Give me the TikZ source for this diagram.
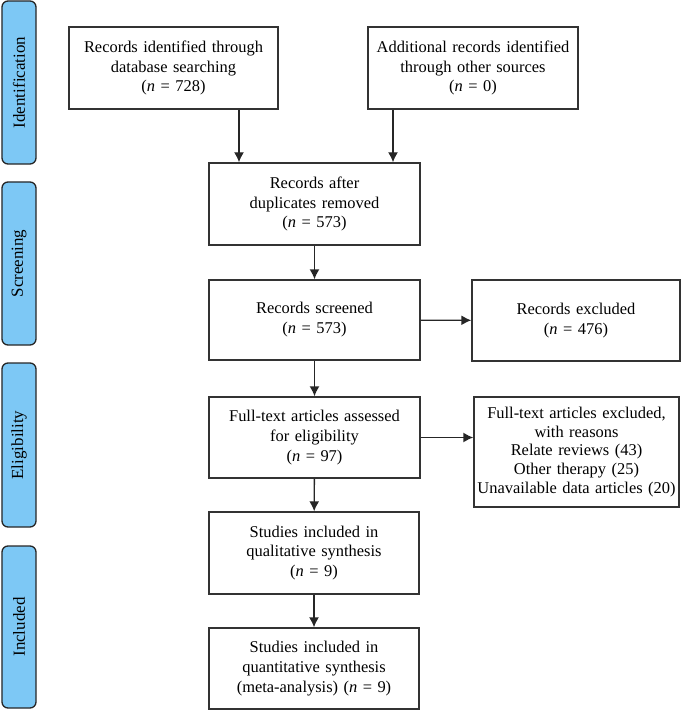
\documentclass[tikz,border=0pt]{standalone}
\usepackage{fontspec}
\setmainfont{Liberation Serif}
\usetikzlibrary{arrows.meta,calc}
\begin{document}
\begin{tikzpicture}[x=1bp,y=-1bp,
  every node/.style={font=\fontsize{16.5}{20}\selectfont},
  box/.style={draw=black!80, line width=1.4bp, align=center, inner sep=0pt, minimum width=210bp, minimum height=82bp, text width=205bp},
  phase/.style={draw=black!85, line width=1.3bp, rounded corners=6bp, fill=phaseblue, minimum width=34bp, inner sep=0pt, rotate=90, font=\fontsize{17}{20}\selectfont},
  arr/.style={draw=black!85, line width=1.4bp, -{Latex[length=10bp,width=10bp]}}]
\definecolor{phaseblue}{RGB}{125,200,245}
\useasboundingbox (0,0) rectangle (681,711);
% phase labels
\node[phase, minimum width=163bp, minimum height=34bp] (pid) at (19,82.5) {Identification};
\node[phase, minimum width=163bp, minimum height=34bp] (psc) at (19,263.5) {Screening};
\node[phase, minimum width=164bp, minimum height=34bp] (pel) at (19,445) {Eligibility};
\node[phase, minimum width=162bp, minimum height=34bp] (pin) at (19,627) {Included};
% boxes
\node[box, minimum width=209bp] (b1) at (173.5,68) {Records identified through\\database searching\\(\textit{n} = 728)};
\node[box] (b2) at (473,68) {Additional records identified\\through other sources\\(\textit{n} = 0)};
\node[box, minimum width=211bp] (b3) at (314.5,204) {Records after\\duplicates removed\\(\textit{n} = 573)};
\node[box, minimum width=211bp, minimum height=80bp] (b4) at (314.5,320) {Records screened\\(\textit{n} = 573)};
\node[box, minimum width=208bp, minimum height=81bp] (e1) at (576,320.5) {Records excluded\\(\textit{n} = 476)};
\node[box, minimum width=211bp, minimum height=81bp] (b5) at (314.5,437.5) {Full-text articles assessed\\for eligibility\\(\textit{n} = 97)};
\node[box, minimum width=205bp, minimum height=110bp, font=\fontsize{16.5}{19}\selectfont] (e2) at (576.5,452) {Full-text articles excluded,\\with reasons\\Relate reviews (43)\\Other therapy (25)\\Unavailable data articles (20)};
\node[box, minimum width=210bp] (b6) at (314,553) {Studies included in\\qualitative synthesis\\(\textit{n} = 9)};
\node[box, minimum width=210bp, minimum height=81bp] (b7) at (314,668.5) {Studies included in\\quantitative synthesis\\(meta-analysis) (\textit{n} = 9)};
% connectors
\coordinate (c1) at (239,0);
\coordinate (c2) at (393,0);
\draw[arr] (b1.south -| c1) -- (b3.north -| c1);
\draw[arr] (b2.south -| c2) -- (b3.north -| c2);
\draw[arr] (b3) -- (b4);
\draw[arr] (b4) -- (e1);
\draw[arr] (b4) -- (b5);
\draw[arr] (b5.east) -- (b5.east -| e2.west);
\draw[arr] (b5) -- (b6);
\draw[arr] (b6) -- (b7);
\end{tikzpicture}
\end{document}
